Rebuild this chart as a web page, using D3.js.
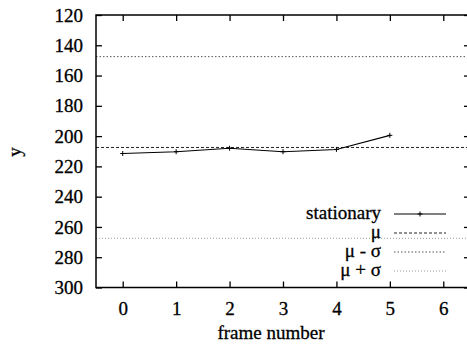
<!DOCTYPE html>
<html><head><meta charset="utf-8">
<script src="https://cdn.jsdelivr.net/npm/d3@7"></script>
<style>body{margin:0;background:#fff}svg{display:block}svg text{font-family:"Liberation Serif","Times New Roman",Times,"DejaVu Serif",serif !important;fill:#000;stroke:#000;stroke-width:0.3px}</style>
</head><body><svg id="c" width="467" height="344"></svg>
<script>
const frames = [0, 1, 2, 3, 4, 5];
const stationary = [211.5, 210.3, 208, 210.3, 208.8, 199.5];
const mu = 207.5;
const sigma = 60;
const xTicks = [0, 1, 2, 3, 4, 5, 6];
const yTicks = [120, 140, 160, 180, 200, 220, 240, 260, 280, 300];
const legendLabels = ["stationary", "\u03bc", "\u03bc - \u03c3", "\u03bc + \u03c3"];

const svg = d3.select("#c");
const L = 96, R = 470, T = 15, B = 287.5;
const x = d3.scaleLinear().domain([-0.5, 6.5]).range([L, R]);
const y = d3.scaleLinear().domain([120, 300]).range([T, B]);
const FS = "19px";

// horizontal reference lines
const refs = [
  {v: mu, dash: "3,2", color: "#222", w: 1},
  {v: mu - sigma, dash: "1.5,2", color: "#555", w: 1},
  {v: mu + sigma, dash: "1,2", color: "#999", w: 1}
];
refs.forEach(r => {
  svg.append("line").attr("x1", L).attr("x2", R).attr("y1", y(r.v)).attr("y2", y(r.v))
    .attr("stroke", r.color).attr("stroke-width", r.w).attr("stroke-dasharray", r.dash);
});

// axes
const axL = svg.append("g").attr("transform", `translate(${L},0)`)
  .call(d3.axisLeft(y).tickValues(yTicks).tickSize(-6).tickPadding(13).tickFormat(d3.format("d")));
const axR = svg.append("g").attr("transform", `translate(${R},0)`)
  .call(d3.axisRight(y).tickValues(yTicks).tickSize(-6).tickFormat(""));
const axB = svg.append("g").attr("transform", `translate(0,${B})`)
  .call(d3.axisBottom(x).tickValues(xTicks).tickSize(-6).tickPadding(14).tickFormat(d3.format("d")));
const axT = svg.append("g").attr("transform", `translate(0,${T})`)
  .call(d3.axisTop(x).tickValues(xTicks).tickSize(-6).tickFormat(""));
[axL, axR, axB, axT].forEach(a => {
  a.attr("font-family", null).attr("font-size", null);
  a.select(".domain").remove();
  a.selectAll("line").attr("stroke", "#000").attr("stroke-width", 1.3);
  a.selectAll("text").style("font-size", FS).attr("fill", "#000");
});
svg.append("rect").attr("x", L).attr("y", T).attr("width", R - L).attr("height", B - T)
  .attr("fill", "none").attr("stroke", "#000").attr("stroke-width", 1.5);

// stationary series
svg.append("path").datum(frames.map((f, i) => [f, stationary[i]]))
  .attr("fill", "none").attr("stroke", "#000").attr("stroke-width", 1.1)
  .attr("d", d3.line().x(d => x(d[0])).y(d => y(d[1])));
svg.selectAll(".pt").data(frames).enter().append("path")
  .attr("d", (f, i) => `M${x(f)-2.5},${y(stationary[i])}h5M${x(f)},${y(stationary[i])-2.5}v5`)
  .attr("stroke", "#000").attr("stroke-width", 1);

// labels
svg.append("text").attr("x", 271).attr("y", 339).attr("text-anchor", "middle")
  .style("font-size", FS).text("frame number");
svg.append("text").attr("transform", "translate(21,152) rotate(-90)").attr("text-anchor", "middle")
  .style("font-size", FS).text("y");

// legend
const legY = [214, 233, 252, 271];
const legStyles = [
  {dash: null, color: "#000"},
  {dash: "3,2", color: "#222"},
  {dash: "1.5,2", color: "#555"},
  {dash: "1,2", color: "#999"}
];
legendLabels.forEach((lab, i) => {
  svg.append("text").attr("x", 381).attr("y", legY[i] + 5).attr("text-anchor", "end")
    .style("font-size", FS).text(lab);
  svg.append("line").attr("x1", 394).attr("x2", 446).attr("y1", legY[i]).attr("y2", legY[i])
    .attr("stroke", legStyles[i].color).attr("stroke-width", 1)
    .attr("stroke-dasharray", legStyles[i].dash);
});
svg.append("path").attr("d", `M${420-2.5},${legY[0]}h5M420,${legY[0]-2.5}v5`).attr("stroke", "#000");
</script></body></html>
